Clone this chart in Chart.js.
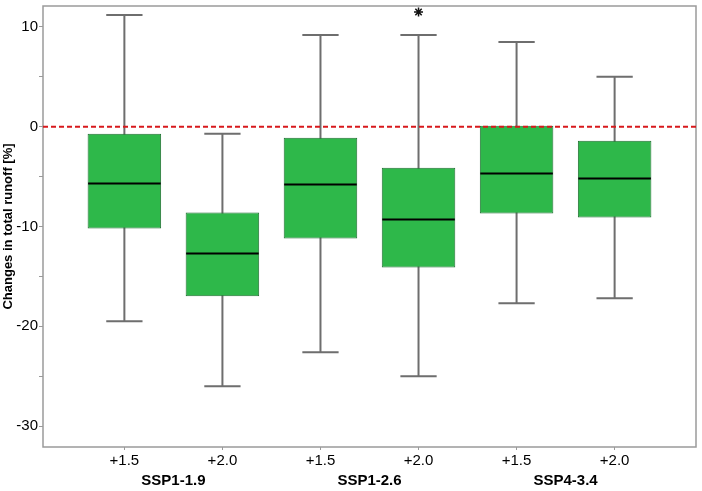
<!DOCTYPE html>
<html>
<head>
<meta charset="utf-8">
<script src="https://cdn.jsdelivr.net/npm/chart.js@4.4.1/dist/chart.umd.min.js"></script>
<style>
  html, body { margin: 0; padding: 0; background: #fff; }
  #wrap { width: 702px; height: 491px; }
</style>
</head>
<body>
<div id="wrap"><canvas id="chart"></canvas></div>
<script>
// box positions on the x axis and their labels
const positions = [1, 2, 3, 4, 5, 6];
const warmingLabels = ["+1.5", "+2.0", "+1.5", "+2.0", "+1.5", "+2.0"];
const scenarioPositions = [1.5, 3.5, 5.5];
const scenarioLabels = ["SSP1-1.9", "SSP1-2.6", "SSP4-3.4"];

// box plot statistics, % change in total runoff
const whiskerLow = [-19.5, -26.0, -22.6, -25.0, -17.7, -17.2];
const q1 = [-10.2, -17.0, -11.2, -14.1, -8.7, -9.1];
const median = [-5.7, -12.7, -5.8, -9.3, -4.7, -5.2];
const q3 = [-0.7, -8.6, -1.1, -4.1, 0.1, -1.4];
const whiskerHigh = [11.2, -0.7, 9.2, 9.2, 8.5, 5.0];

// outliers
const outlierX = [4];
const outlierY = [11.5];

const yTicks = [-30, -25, -20, -15, -10, -5, 0, 5, 10];

const boxData = positions.map((x, i) => ({ x: x, y: [q1[i], q3[i]] }));
const outlierData = outlierX.map((x, i) => ({ x: x, y: outlierY[i] }));

const boxPlotPlugin = {
  id: "boxPlot",
  beforeDatasetsDraw(chart) {
    const { ctx, chartArea: a, scales: { x, y } } = chart;
    ctx.save();
    // frame
    ctx.strokeStyle = "#9a9a9a";
    ctx.lineWidth = 1.5;
    ctx.strokeRect(a.left, a.top, a.right - a.left, a.bottom - a.top);
    // whiskers
    ctx.strokeStyle = "#6e6e6e";
    ctx.lineWidth = 2;
    positions.forEach((p, i) => {
      const px = x.getPixelForValue(p);
      const l = x.getPixelForValue(p - 0.185);
      const r = x.getPixelForValue(p + 0.185);
      const lo = y.getPixelForValue(whiskerLow[i]);
      const hi = y.getPixelForValue(whiskerHigh[i]);
      ctx.beginPath();
      ctx.moveTo(px, lo); ctx.lineTo(px, hi);
      ctx.moveTo(l, lo); ctx.lineTo(r, lo);
      ctx.moveTo(l, hi); ctx.lineTo(r, hi);
      ctx.stroke();
    });
    ctx.restore();
  },
  afterDatasetsDraw(chart) {
    const { ctx, chartArea: a, scales: { x, y } } = chart;
    ctx.save();
    // medians
    ctx.strokeStyle = "#000";
    ctx.lineWidth = 2;
    positions.forEach((p, i) => {
      const l = x.getPixelForValue(p - 0.37);
      const r = x.getPixelForValue(p + 0.37);
      const m = y.getPixelForValue(median[i]);
      ctx.beginPath();
      ctx.moveTo(l, m); ctx.lineTo(r, m);
      ctx.stroke();
    });
    // zero line
    const y0 = y.getPixelForValue(0);
    ctx.strokeStyle = "#d7191c";
    ctx.lineWidth = 2;
    ctx.setLineDash([5, 3]);
    ctx.beginPath();
    ctx.moveTo(a.left, y0); ctx.lineTo(a.right, y0);
    ctx.stroke();
    ctx.restore();
  }
};

new Chart(document.getElementById("chart"), {
  type: "bar",
  data: {
    datasets: [
      {
        type: "bar",
        data: boxData,
        backgroundColor: "#2eb84a",
        borderColor: "#1f6e30",
        borderWidth: 1,
        borderSkipped: false,
        barPercentage: 0.75,
        categoryPercentage: 1.0
      },
      {
        type: "scatter",
        data: outlierData,
        pointStyle: "star",
        radius: 4.5,
        borderColor: "#111",
        borderWidth: 1.5,
        backgroundColor: "#111"
      }
    ]
  },
  options: {
    responsive: true,
    maintainAspectRatio: false,
    animation: false,
    layout: { padding: { left: 0, top: 5, right: 6, bottom: 0 } },
    plugins: { legend: { display: false }, tooltip: { enabled: false } },
    scales: {
      x: {
        type: "linear",
        position: "bottom",
        offset: false,
        min: 0.17,
        max: 6.83,
        afterBuildTicks: (s) => { s.ticks = positions.map(v => ({ value: v })); },
        afterFit: (s) => { s.height = 24; },
        ticks: {
          color: "#000",
          padding: 2,
          maxRotation: 0,
          autoSkip: false,
          font: { family: "Liberation Sans", size: 15 },
          callback: (v) => warmingLabels[positions.indexOf(v)]
        },
        grid: { offset: false, drawOnChartArea: false, tickLength: 3, color: "#9a9a9a" },
        border: { display: false }
      },
      x2: {
        type: "linear",
        position: "bottom",
        offset: false,
        min: 0.17,
        max: 6.83,
        afterBuildTicks: (s) => { s.ticks = scenarioPositions.map(v => ({ value: v })); },
        afterFit: (s) => { s.height = 20; },
        ticks: {
          color: "#000",
          padding: 1,
          maxRotation: 0,
          autoSkip: false,
          font: { family: "Liberation Sans", size: 15, weight: "bold" },
          callback: (v) => scenarioLabels[scenarioPositions.indexOf(v)]
        },
        grid: { display: false, drawTicks: false, offset: false },
        border: { display: false }
      },
      y: {
        type: "linear",
        min: -32.1,
        max: 12.1,
        afterBuildTicks: (s) => { s.ticks = yTicks.map(v => ({ value: v })); },
        afterFit: (s) => { s.width = 43; s.paddingTop = 0; s.paddingBottom = 0; },
        ticks: {
          color: "#000",
          padding: 1,
          autoSkip: false,
          font: { family: "Liberation Sans", size: 15 },
          callback: (v) => (v % 10 === 0 ? String(v) : "")
        },
        grid: { drawOnChartArea: false, tickLength: 4, color: "#9a9a9a" },
        border: { display: false },
        title: {
          display: true,
          text: "Changes in total runoff [%]",
          color: "#000",
          padding: { top: 1, bottom: 0 },
          font: { family: "Liberation Sans", size: 13, weight: "bold" }
        }
      }
    }
  },
  plugins: [boxPlotPlugin]
});
</script>
</body>
</html>
